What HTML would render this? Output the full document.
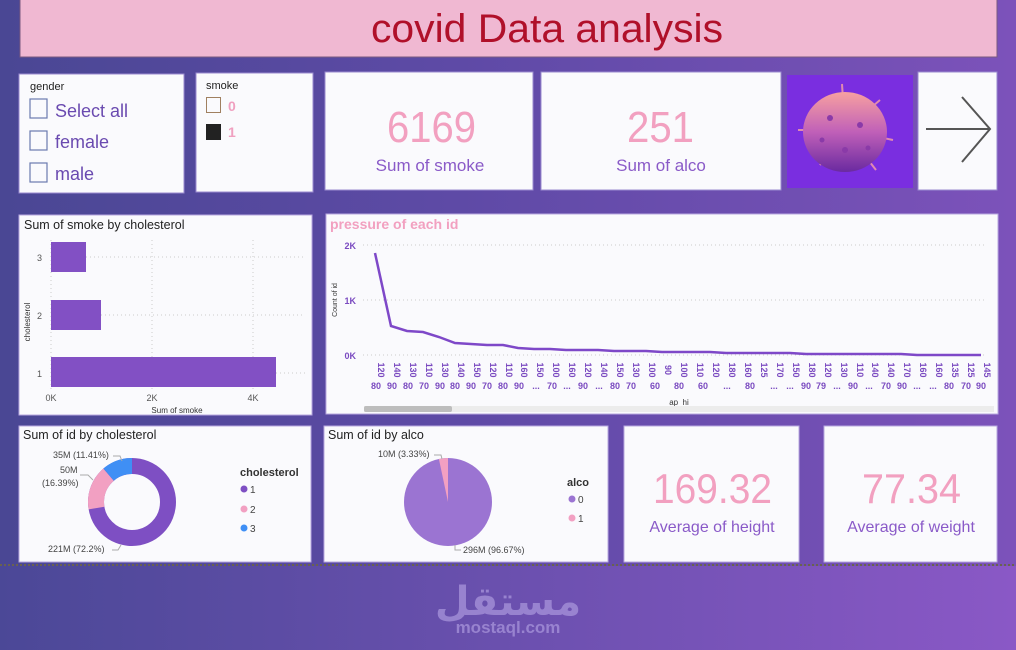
<!DOCTYPE html>
<html><head><meta charset="utf-8"><style>
html,body{margin:0;padding:0;width:1016px;height:650px;overflow:hidden}
body{background:linear-gradient(90deg,#4a4794 0%,#5e4aa6 45%,#7c52ba 100%);font-family:"Liberation Sans","Noto Sans CJK SC",sans-serif}
svg{position:absolute;left:0;top:0}
</style></head><body>
<svg width="1016" height="650" viewBox="0 0 1016 650" font-family="Liberation Sans, sans-serif">
<defs>
<linearGradient id="bot" x1="0" x2="1"><stop offset="0" stop-color="#4b4897"/><stop offset="1" stop-color="#8a58c6"/></linearGradient>
<linearGradient id="vir" x1="0" y1="0" x2="0" y2="1"><stop offset="0" stop-color="#f7a0a0"/><stop offset="0.5" stop-color="#c060b8"/><stop offset="1" stop-color="#6a2aa0"/></linearGradient>
</defs>
<rect x="0" y="566" width="1016" height="84" fill="url(#bot)"/>
<line x1="0" y1="565" x2="1016" y2="565" stroke="#6a6250" stroke-width="2" stroke-dasharray="2,2"/>
<text x="508" y="615" text-anchor="middle" font-size="40" font-weight="bold" fill="#a490d8" opacity="0.8" font-family="DejaVu Sans, sans-serif">مستقل</text>
<text x="508" y="633" text-anchor="middle" font-size="17" font-weight="bold" fill="#a490d8" opacity="0.8">mostaql.com</text>

<!-- title -->
<rect x="20" y="-2" width="977" height="59" fill="#f0b8d2" stroke="#7a5a80" stroke-width="1"/>
<text x="371" y="42" font-size="40" fill="#b0102a" textLength="352" lengthAdjust="spacingAndGlyphs">covid Data analysis</text>

<!-- gender slicer -->
<rect x="19" y="74" width="165" height="119" fill="#fafafd" stroke="#9a8ad0"/>
<text x="30" y="90" font-size="11" fill="#222">gender</text>
<g fill="none" stroke="#6a7ab0" stroke-width="1.2">
<rect x="30" y="99" width="17" height="19"/><rect x="30" y="131" width="17" height="19"/><rect x="30" y="163" width="17" height="19"/></g>
<g font-size="18" fill="#6a4ab0"><text x="55" y="117">Select all</text><text x="55" y="148">female</text><text x="55" y="180">male</text></g>

<!-- smoke slicer -->
<rect x="196" y="73" width="117" height="119" fill="#fafafd" stroke="#9a8ad0"/>
<text x="206" y="89" font-size="11" fill="#222">smoke</text>
<rect x="206.5" y="97.5" width="14" height="15" fill="none" stroke="#a08060"/>
<rect x="206" y="124" width="15" height="16" fill="#222"/>
<g font-size="14" font-weight="bold" fill="#f0a0c0"><text x="228" y="111">0</text><text x="228" y="137">1</text></g>

<!-- cards -->
<rect x="325" y="72" width="208" height="118" fill="#fafafd" stroke="#9a8ad0"/>
<text x="387" y="142" font-size="44" fill="#f2a0c0" textLength="89" lengthAdjust="spacingAndGlyphs">6169</text>
<text x="430" y="171" text-anchor="middle" font-size="17" fill="#8a5ac8">Sum of smoke</text>
<rect x="541" y="72" width="240" height="118" fill="#fafafd" stroke="#9a8ad0"/>
<text x="627" y="142" font-size="44" fill="#f2a0c0" textLength="67" lengthAdjust="spacingAndGlyphs">251</text>
<text x="661" y="171" text-anchor="middle" font-size="17" fill="#8a5ac8">Sum of alco</text>

<!-- virus -->
<rect x="787" y="75" width="126" height="113" fill="#7a2ee0"/>
<g stroke="#e08ab0" stroke-width="2">
<line x1="845" y1="130" x2="842" y2="84"/><line x1="845" y1="130" x2="880" y2="100"/><line x1="845" y1="130" x2="798" y2="130"/><line x1="845" y1="130" x2="893" y2="140"/><line x1="845" y1="130" x2="820" y2="102"/><line x1="845" y1="130" x2="876" y2="170"/><line x1="845" y1="130" x2="820" y2="165"/></g>
<ellipse cx="845" cy="132" rx="42" ry="40" fill="url(#vir)"/>
<g fill="#8a3aa8"><circle cx="830" cy="118" r="3"/><circle cx="860" cy="125" r="3"/><circle cx="845" cy="150" r="3"/><circle cx="822" cy="140" r="2.5"/><circle cx="868" cy="148" r="2.5"/></g>
<rect x="918" y="72" width="79" height="118" fill="#fafafd" stroke="#9a8ad0"/>
<g stroke="#555" stroke-width="2" fill="none"><line x1="926" y1="129" x2="990" y2="129"/><polyline points="962,97 990,129 962,162"/></g>

<!-- bar chart -->
<rect x="19" y="215" width="293" height="200" fill="#fafafd" stroke="#b8a8e0"/>
<text x="24" y="229" font-size="12.5" fill="#222">Sum of smoke by cholesterol</text>
<g stroke="#ccc" stroke-dasharray="1,3"><line x1="51" y1="240" x2="51" y2="390"/><line x1="152" y1="240" x2="152" y2="390"/><line x1="253" y1="240" x2="253" y2="390"/>
<line x1="86" y1="257" x2="305" y2="257"/><line x1="101" y1="315" x2="305" y2="315"/><line x1="276" y1="373" x2="305" y2="373"/></g>
<g fill="#8250c4"><rect x="51" y="242" width="35" height="30"/><rect x="51" y="300" width="50" height="30"/><rect x="51" y="357" width="225" height="30"/></g>
<g font-size="9" fill="#555"><text x="37" y="261">3</text><text x="37" y="319">2</text><text x="37" y="377">1</text>
<text x="51" y="401" text-anchor="middle">0K</text><text x="152" y="401" text-anchor="middle">2K</text><text x="253" y="401" text-anchor="middle">4K</text>
<text x="177" y="413" text-anchor="middle" font-size="8" fill="#333">Sum of smoke</text>
<text transform="translate(30,322) rotate(-90)" text-anchor="middle" font-size="8" fill="#333">cholesterol</text></g>

<!-- line chart -->
<rect x="326" y="214" width="672" height="200" fill="#fafafd" stroke="#b8a8e0"/>
<text x="330" y="229" font-size="14" font-weight="bold" fill="#f2a0c0">pressure of each id</text>
<g stroke="#ccc" stroke-dasharray="1,3"><line x1="363" y1="245" x2="985" y2="245"/><line x1="363" y1="300" x2="985" y2="300"/><line x1="363" y1="355" x2="985" y2="355"/></g>
<g font-size="9" font-weight="bold" fill="#7a4ac0"><text x="356" y="249" text-anchor="end">2K</text><text x="356" y="304" text-anchor="end">1K</text><text x="356" y="359" text-anchor="end">0K</text></g>
<text transform="translate(337,300) rotate(-90)" text-anchor="middle" font-size="7" fill="#333">Count of id</text>
<polyline fill="none" stroke="#7e48c8" stroke-width="2.5" points="375,253 391,326 407,331 423,332 439,337 455,343 471,344 487,345 503,345 518,348 534,349 550,349 566,350 582,350 598,350 614,351 630,351 646,351 662,352 678,352 694,352 710,352 726,353 742,353 758,353 774,353 790,353 806,354 822,354 838,354 854,354 869,354 885,354 901,354 917,355 933,355 949,355 965,355 981,355"/>
<g font-size="9" font-weight="bold" fill="#7a4ac0" text-anchor="middle">
<text transform="translate(378,370) rotate(90)" text-anchor="middle">120</text><text transform="translate(394,370) rotate(90)" text-anchor="middle">140</text><text transform="translate(410,370) rotate(90)" text-anchor="middle">130</text><text transform="translate(426,370) rotate(90)" text-anchor="middle">110</text><text transform="translate(442,370) rotate(90)" text-anchor="middle">130</text><text transform="translate(458,370) rotate(90)" text-anchor="middle">140</text><text transform="translate(474,370) rotate(90)" text-anchor="middle">150</text><text transform="translate(490,370) rotate(90)" text-anchor="middle">120</text><text transform="translate(506,370) rotate(90)" text-anchor="middle">110</text><text transform="translate(521,370) rotate(90)" text-anchor="middle">160</text><text transform="translate(537,370) rotate(90)" text-anchor="middle">150</text><text transform="translate(553,370) rotate(90)" text-anchor="middle">100</text><text transform="translate(569,370) rotate(90)" text-anchor="middle">160</text><text transform="translate(585,370) rotate(90)" text-anchor="middle">120</text><text transform="translate(601,370) rotate(90)" text-anchor="middle">140</text><text transform="translate(617,370) rotate(90)" text-anchor="middle">150</text><text transform="translate(633,370) rotate(90)" text-anchor="middle">130</text><text transform="translate(649,370) rotate(90)" text-anchor="middle">100</text><text transform="translate(665,370) rotate(90)" text-anchor="middle">90</text><text transform="translate(681,370) rotate(90)" text-anchor="middle">100</text><text transform="translate(697,370) rotate(90)" text-anchor="middle">110</text><text transform="translate(713,370) rotate(90)" text-anchor="middle">120</text><text transform="translate(729,370) rotate(90)" text-anchor="middle">180</text><text transform="translate(745,370) rotate(90)" text-anchor="middle">160</text><text transform="translate(761,370) rotate(90)" text-anchor="middle">125</text><text transform="translate(777,370) rotate(90)" text-anchor="middle">170</text><text transform="translate(793,370) rotate(90)" text-anchor="middle">150</text><text transform="translate(809,370) rotate(90)" text-anchor="middle">180</text><text transform="translate(825,370) rotate(90)" text-anchor="middle">120</text><text transform="translate(841,370) rotate(90)" text-anchor="middle">130</text><text transform="translate(857,370) rotate(90)" text-anchor="middle">110</text><text transform="translate(872,370) rotate(90)" text-anchor="middle">140</text><text transform="translate(888,370) rotate(90)" text-anchor="middle">140</text><text transform="translate(904,370) rotate(90)" text-anchor="middle">170</text><text transform="translate(920,370) rotate(90)" text-anchor="middle">160</text><text transform="translate(936,370) rotate(90)" text-anchor="middle">160</text><text transform="translate(952,370) rotate(90)" text-anchor="middle">135</text><text transform="translate(968,370) rotate(90)" text-anchor="middle">125</text><text transform="translate(984,370) rotate(90)" text-anchor="middle">145</text>
<text x="376" y="389">80</text><text x="392" y="389">90</text><text x="408" y="389">80</text><text x="424" y="389">70</text><text x="440" y="389">90</text><text x="455" y="389">80</text><text x="471" y="389">90</text><text x="487" y="389">70</text><text x="503" y="389">80</text><text x="519" y="389">90</text><text x="536" y="389">...</text><text x="552" y="389">70</text><text x="567" y="389">...</text><text x="583" y="389">90</text><text x="599" y="389">...</text><text x="615" y="389">80</text><text x="631" y="389">70</text><text x="655" y="389">60</text><text x="679" y="389">80</text><text x="703" y="389">60</text><text x="727" y="389">...</text><text x="750" y="389">80</text><text x="774" y="389">...</text><text x="790" y="389">...</text><text x="806" y="389">90</text><text x="821" y="389">79</text><text x="837" y="389">...</text><text x="853" y="389">90</text><text x="869" y="389">...</text><text x="886" y="389">70</text><text x="902" y="389">90</text><text x="917" y="389">...</text><text x="933" y="389">...</text><text x="949" y="389">80</text><text x="966" y="389">70</text><text x="981" y="389">90</text>
</g>
<text x="679" y="405" text-anchor="middle" font-size="8" fill="#333">ap_hi</text>
<rect x="364" y="406" width="630" height="6" fill="#ececec"/><rect x="364" y="406" width="88" height="6" rx="2" fill="#bdbdbd"/>

<!-- donut -->
<rect x="19" y="426" width="292" height="136" fill="#fafafd" stroke="#b8a8e0"/>
<text x="23" y="439" font-size="12.5" fill="#222">Sum of id by cholesterol</text>
<g transform="translate(132,502)">
<circle r="36" fill="none" stroke="#7e4fc3" stroke-width="16"/>
<circle r="36" fill="none" stroke="#f2a0c2" stroke-width="16" stroke-dasharray="37.06 226.2" stroke-dashoffset="-163.3" transform="rotate(-90)"/>
<circle r="36" fill="none" stroke="#3f8ff5" stroke-width="16" stroke-dasharray="25.8 226.2" stroke-dashoffset="-200.4" transform="rotate(-90)"/>
</g>
<g font-size="9" fill="#444"><text x="53" y="458">35M (11.41%)</text><text x="60" y="473">50M</text><text x="42" y="486">(16.39%)</text><text x="48" y="552">221M (72.2%)</text></g>
<g stroke="#aaa" fill="none"><polyline points="113,456 120,456 122,461"/><polyline points="80,475 88,475 93,480"/><polyline points="112,550 118,550 121,545"/></g>
<text x="240" y="476" font-size="11" font-weight="bold" fill="#333">cholesterol</text>
<circle cx="244" cy="489" r="3.5" fill="#7e4fc3"/><circle cx="244" cy="509" r="3.5" fill="#f2a0c2"/><circle cx="244" cy="528" r="3.5" fill="#3f8ff5"/>
<g font-size="10" fill="#444"><text x="250" y="493">1</text><text x="250" y="513">2</text><text x="250" y="532">3</text></g>

<!-- pie -->
<rect x="324" y="426" width="284" height="136" fill="#fafafd" stroke="#b8a8e0"/>
<text x="328" y="439" font-size="12.5" fill="#222">Sum of id by alco</text>
<circle cx="448" cy="502" r="44" fill="#9b74d2"/>
<path d="M448,502 L448,458 A44,44 0 0 0 438.9,459 Z" fill="#f2a0c2"/>
<g font-size="9" fill="#444"><text x="378" y="457">10M (3.33%)</text><text x="463" y="553">296M (96.67%)</text></g>
<g stroke="#aaa" fill="none"><polyline points="434,455 441,455 442,459"/><polyline points="455,545 455,550 461,550"/></g>
<text x="567" y="486" font-size="11" font-weight="bold" fill="#333">alco</text>
<circle cx="572" cy="499" r="3.5" fill="#9b74d2"/><circle cx="572" cy="518" r="3.5" fill="#f2a0c2"/>
<g font-size="10" fill="#444"><text x="578" y="503">0</text><text x="578" y="522">1</text></g>

<!-- height / weight -->
<rect x="624" y="426" width="175" height="136" fill="#fafafd" stroke="#b8a8e0"/>
<text x="653" y="503" font-size="42" fill="#f2a0c0" textLength="119" lengthAdjust="spacingAndGlyphs">169.32</text>
<text x="712" y="532" text-anchor="middle" font-size="16" fill="#8a5ac8">Average of height</text>
<rect x="824" y="426" width="173" height="136" fill="#fafafd" stroke="#b8a8e0"/>
<text x="862" y="503" font-size="42" fill="#f2a0c0" textLength="99" lengthAdjust="spacingAndGlyphs">77.34</text>
<text x="911" y="532" text-anchor="middle" font-size="16" fill="#8a5ac8">Average of weight</text>
</svg>
</body></html>
